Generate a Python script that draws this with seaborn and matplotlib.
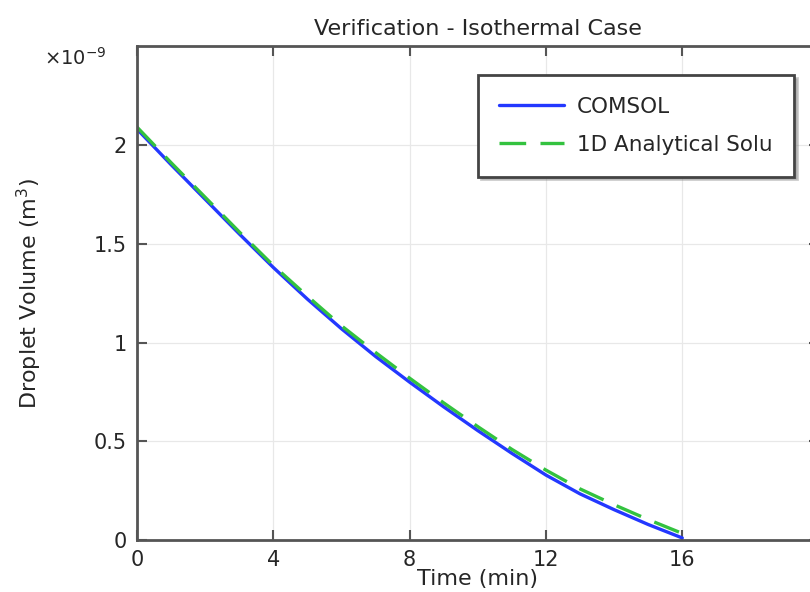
import matplotlib
matplotlib.use("Agg")
import matplotlib.pyplot as plt
import matplotlib.ticker as mticker
import numpy as np
import pandas as pd
import seaborn as sns

# Time in minutes
time_min = [0, 1, 2, 3, 4, 5, 6, 7, 8, 9, 10, 11, 12, 13, 14, 15, 16]
# Droplet volume, in units of 1e-9 m^3
comsol_vol = [2.08, 1.90, 1.725, 1.55, 1.38, 1.22, 1.07, 0.93, 0.80, 0.675,
              0.555, 0.44, 0.33, 0.235, 0.155, 0.08, 0.012]
analytical_vol = [2.09, 1.91, 1.735, 1.56, 1.39, 1.235, 1.085, 0.95, 0.82, 0.695,
                  0.575, 0.46, 0.355, 0.26, 0.18, 0.105, 0.035]

x_ticks = [0, 4, 8, 12, 16]
y_ticks = [0, 0.5, 1, 1.5, 2]

title = "Verification - Isothermal Case"
x_label = "Time (min)"
y_label = "Droplet Volume (m$^3$)"
series_names = ["COMSOL", "1D Analytical Solu"]

sns.set_theme(style="whitegrid")
plt.rcParams["font.family"] = ["DejaVu Sans"]

text_color = "#262626"
spine_color = "#555555"

fig = plt.figure(figsize=(8.1, 5.92), dpi=100)
ax = fig.add_axes([0.1691, 0.0873, 0.8415, 0.835])

df_c = pd.DataFrame({"t": time_min, "v": comsol_vol})
df_a = pd.DataFrame({"t": time_min, "v": analytical_vol})

sns.lineplot(data=df_c, x="t", y="v", ax=ax, color="#2338ff", lw=2.4,
             label=series_names[0])
sns.lineplot(data=df_a, x="t", y="v", ax=ax, color="#33c23f", lw=2.4,
             linestyle=(0, (8.0, 4.3)), label=series_names[1])

ax.set_xlim(0, 20)
ax.set_ylim(0, 2.5)
ax.set_xticks(x_ticks)
ax.set_yticks(y_ticks)
ax.yaxis.set_major_formatter(mticker.FuncFormatter(lambda v, p: f"{v:g}"))

ax.set_facecolor("white")
ax.grid(True, color="#e8e8e8", lw=0.9)
for s in ax.spines.values():
    s.set_visible(True)
    s.set_color(spine_color)
    s.set_linewidth(2.0)

ax.tick_params(axis="both", which="major", direction="in", length=7, width=1.5,
               color=spine_color, labelsize=15, labelcolor=text_color,
               top=True, right=True, bottom=True, left=True, pad=7)

ax.set_title(title, fontsize=16, color=text_color, pad=8)
ax.set_xlabel(x_label, fontsize=16, color=text_color, labelpad=-1)
ax.set_ylabel(y_label, fontsize=16, color=text_color, labelpad=36)

fig.text(0.093, 0.902, r"$\times$10$^{-9}$", fontsize=14, color=text_color,
         ha="center", va="center")

leg = ax.legend(loc="upper left", bbox_to_anchor=(0.5, 0.941), fontsize=15.5,
                handlelength=3.0, handletextpad=0.6, borderpad=1.0,
                labelspacing=0.85, fancybox=False, frameon=True,
                shadow={"color": "0.5", "alpha": 0.4}, borderaxespad=0)
leg.get_frame().set_edgecolor("#444444")
leg.get_frame().set_linewidth(2.0)
leg.get_frame().set_facecolor("white")
leg.get_frame().set_alpha(1.0)
for t in leg.get_texts():
    t.set_color(text_color)

fig.savefig("out.png", dpi=100, facecolor="white")
